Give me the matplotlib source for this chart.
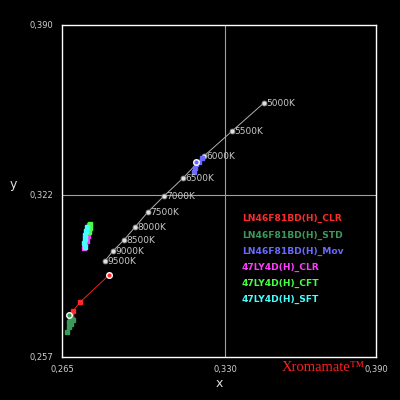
import matplotlib
matplotlib.use("Agg")
import matplotlib.pyplot as plt

# blackbody locus points
bb_temps = ["5000K", "5500K", "6000K", "6500K", "7000K", "7500K", "8000K", "8500K", "9000K", "9500K"]
bb_x = [0.3454, 0.3327, 0.3215, 0.3132, 0.3056, 0.2992, 0.2941, 0.2897, 0.2853, 0.2821]
bb_y = [0.3588, 0.3475, 0.3375, 0.3287, 0.3215, 0.3151, 0.3091, 0.3039, 0.2995, 0.2955]

# measured series
names = ["LN46F81BD(H)_CLR", "LN46F81BD(H)_STD", "LN46F81BD(H)_Mov",
         "47LY4D(H)_CLR", "47LY4D(H)_CFT", "47LY4D(H)_SFT"]
colors = ["#ff2a2a", "#3a9a5a", "#6a6aff", "#ff3cff", "#44ff44", "#44ffff"]

clr_x = [0.2837, 0.2722, 0.2694, 0.2686, 0.2690]
clr_y = [0.2898, 0.2790, 0.2754, 0.2738, 0.2722]
std_x = [0.2682, 0.2694, 0.2678, 0.2686, 0.2678, 0.2670]
std_y = [0.2726, 0.2718, 0.2710, 0.2702, 0.2690, 0.2670]
mov_x = [0.3176, 0.3179, 0.3183, 0.3195, 0.3207]
mov_y = [0.3311, 0.3327, 0.3343, 0.3351, 0.3367]
ly_clr_x = [0.2757, 0.2753, 0.2750, 0.2742, 0.2738]
ly_clr_y = [0.3099, 0.3055, 0.3035, 0.3023, 0.3007]
ly_cft_x = [0.2761, 0.2761, 0.2757]
ly_cft_y = [0.3103, 0.3087, 0.3071]
ly_sft_x = [0.2750, 0.2745, 0.2742, 0.2742, 0.2738, 0.2742]
ly_sft_y = [0.3091, 0.3075, 0.3059, 0.3043, 0.3027, 0.3011]

series = [(clr_x, clr_y), (std_x, std_y), (mov_x, mov_y),
          (ly_clr_x, ly_clr_y), (ly_cft_x, ly_cft_y), (ly_sft_x, ly_sft_y)]

x_ticks = [0.265, 0.330, 0.390]
y_ticks = [0.257, 0.322, 0.390]

fig = plt.figure(figsize=(4, 4), dpi=100, facecolor="black")
ax = fig.add_axes([0.155, 0.1075, 0.785, 0.83], facecolor="black")

ax.axvline(x_ticks[1], color="#a0a0a0", lw=0.8, zorder=0)
ax.axhline(y_ticks[1], color="#a0a0a0", lw=0.8, zorder=0)

ax.plot(bb_x, bb_y, color="#b0b0b0", lw=0.7, marker="o", ms=3.5,
        mfc="#e0e0e0", mec="#909090", mew=0.6)
for t, xx, yy in zip(bb_temps, bb_x, bb_y):
    ax.text(xx + 0.0008, yy - 0.0003, t, color="#c8c8c8", fontsize=6.5,
            va="center", ha="left")

for (sx, sy), c in zip(series, colors):
    ax.plot(sx, sy, color=c, lw=0.6, marker="s", ms=2.5, mec=c, mfc=c)

# start markers
ax.plot([clr_x[0]], [clr_y[0]], "o", ms=4, mfc="#ff2a2a", mec="white", mew=1)
ax.plot([std_x[0] - 0.0004], [std_y[0] + 0.0012], "o", ms=4, mfc="#3a9a5a", mec="white", mew=1)
ax.plot([mov_x[2]], [mov_y[2] + 0.0008], "o", ms=4, mfc="#6a6aff", mec="white", mew=1)

for i, (n, c) in enumerate(zip(names, colors)):
    ax.text(0.573, 0.416 - i * 0.0488, n, color=c, fontsize=6.6, fontweight="bold",
            transform=ax.transAxes, va="center", ha="left")

ax.set_xlim(x_ticks[0], x_ticks[-1])
ax.set_ylim(y_ticks[0], y_ticks[-1])
ax.set_xticks(x_ticks)
ax.set_yticks(y_ticks)
ax.set_xticklabels([f"{v:.3f}".replace(".", ",") for v in x_ticks])
ax.set_yticklabels([f"{v:.3f}".replace(".", ",") for v in y_ticks])
ax.tick_params(length=0, colors="#d0d0d0", labelsize=6, pad=6)
for s in ax.spines.values():
    s.set_color("white")
    s.set_linewidth(1)

ax.set_xlabel("x", color="#e0e0e0", fontsize=9, labelpad=2)
ax.set_ylabel("y", color="#e0e0e0", fontsize=9, rotation=0, labelpad=12)

fig.text(0.705, 0.082, "Xromamate\u2122", color="#ff2020", fontsize=10.5,
         family="Liberation Serif", va="center", ha="left")

fig.savefig("out.png", dpi=100, facecolor="black")
